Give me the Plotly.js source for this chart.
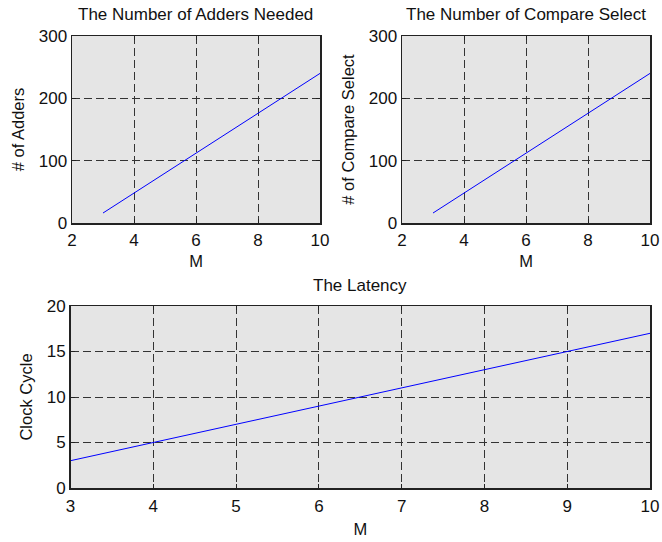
<!DOCTYPE html>
<html>
<head>
<meta charset="utf-8">
<script src="https://cdn.plot.ly/plotly-3.0.1.min.js"></script>
<style>html,body{margin:0;padding:0;background:#fff;}#chart{width:662px;height:542px;}</style>
</head>
<body>
<div id="chart"></div>
<script>
// Data
var M = [3, 4, 5, 6, 7, 8, 9, 10];
var adders = [16, 48, 80, 112, 144, 176, 208, 240];
var compareSelect = [16, 48, 80, 112, 144, 176, 208, 240];
var latency = [3, 5, 7, 9, 11, 13, 15, 17];

var titles = ["The Number of Adders Needed", "The Number of Compare Select", "The Latency"];
var yTitles = ["# of Adders", "# of Compare Select", "Clock Cycle"];
var xTitle = "M";

var FONT = "Liberation Sans, Arial, Helvetica, sans-serif";
var lineStyle = {color: "#0000ff", width: 1};

var traces = [
  {x: M, y: adders, type: "scatter", mode: "lines", line: lineStyle, xaxis: "x", yaxis: "y", hoverinfo: "none"},
  {x: M, y: compareSelect, type: "scatter", mode: "lines", line: lineStyle, xaxis: "x2", yaxis: "y2", hoverinfo: "none"},
  {x: M, y: latency, type: "scatter", mode: "lines", line: lineStyle, xaxis: "x3", yaxis: "y3", hoverinfo: "none"}
];

function ax(extra) {
  var base = {
    showline: true, mirror: "ticks", linecolor: "#222", linewidth: 1.5,
    ticks: "inside", ticklen: 4, tickcolor: "#222", tickwidth: 1,
    showgrid: true, gridcolor: "#333", griddash: "8px,4px", gridwidth: 1,
    zeroline: false, fixedrange: true,
    tickfont: {family: FONT, size: 17, color: "#111"},
    title: {font: {family: FONT, size: 16.5, color: "#111"}}
  };
  for (var k in extra) {
    if (k === "title") { base.title.text = extra.title.text; base.title.standoff = extra.title.standoff; }
    else base[k] = extra[k];
  }
  return base;
}

var topY = [(542 - 223) / 542, (542 - 36) / 542];
var botY = [(542 - 488) / 542, (542 - 306) / 542];

var layout = {
  width: 662, height: 542,
  margin: {l: 0, r: 0, t: 0, b: 0},
  paper_bgcolor: "#ffffff",
  plot_bgcolor: "#e5e5e5",
  showlegend: false,
  font: {family: FONT, color: "#111"},
  xaxis: ax({domain: [72 / 662, 320 / 662], range: [2, 10], dtick: 2, tick0: 2, anchor: "y", ticklabelstandoff: 1, title: {text: xTitle, standoff: 6}}),
  yaxis: ax({domain: topY, range: [0, 300], dtick: 100, anchor: "x", title: {text: yTitles[0], standoff: 10}}),
  xaxis2: ax({domain: [402 / 662, 650 / 662], range: [2, 10], dtick: 2, tick0: 2, anchor: "y2", ticklabelstandoff: 1, title: {text: xTitle, standoff: 6}}),
  yaxis2: ax({domain: topY, range: [0, 300], dtick: 100, anchor: "x2", title: {text: yTitles[1], standoff: 10}}),
  xaxis3: ax({domain: [70.5 / 662, 650 / 662], range: [3, 10], dtick: 1, tick0: 3, anchor: "y3", ticklabelstandoff: 2, title: {text: xTitle, standoff: 8}}),
  yaxis3: ax({domain: botY, range: [0, 20], dtick: 5, anchor: "x3", title: {text: yTitles[2], standoff: 10}}),
  annotations: [
    {text: titles[0], xref: "paper", yref: "paper", x: 196 / 662, y: (542 - 15) / 542, xanchor: "center", yanchor: "middle", showarrow: false, font: {family: FONT, size: 17, color: "#111"}},
    {text: titles[1], xref: "paper", yref: "paper", x: 526 / 662, y: (542 - 15) / 542, xanchor: "center", yanchor: "middle", showarrow: false, font: {family: FONT, size: 17, color: "#111"}},
    {text: titles[2], xref: "paper", yref: "paper", x: 360 / 662, y: (542 - 285) / 542, xanchor: "center", yanchor: "middle", showarrow: false, font: {family: FONT, size: 17, color: "#111"}}
  ]
};

Plotly.newPlot("chart", traces, layout, {staticPlot: true, displayModeBar: false});
</script>
</body>
</html>
